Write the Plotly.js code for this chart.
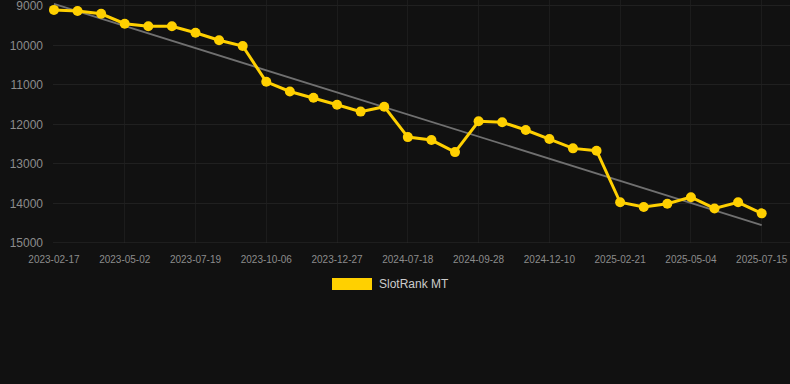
<!DOCTYPE html>
<html>
<head>
<meta charset="utf-8">
<script src="https://cdn.plot.ly/plotly-3.0.1.min.js"></script>
<style>
html,body{margin:0;padding:0;background:#111111;}
#chart{width:790px;height:384px;}
</style>
</head>
<body>
<div id="chart"></div>
<script>
// Dates (categories), evenly spaced on the axis
var dates = [
  "2023-02-17","2023-03-13","2023-04-07","2023-05-02","2023-05-28","2023-06-23",
  "2023-07-19","2023-08-14","2023-09-10","2023-10-06","2023-11-02","2023-11-30",
  "2023-12-27","2024-01-24","2024-06-22","2024-07-18","2024-08-11","2024-09-04",
  "2024-09-28","2024-10-22","2024-11-16","2024-12-10","2025-01-04","2025-01-28",
  "2025-02-21","2025-03-17","2025-04-10","2025-05-04","2025-05-28","2025-06-21",
  "2025-07-15"
];
// Rank values (SlotRank MT)
var ranks = [
  9100, 9130, 9200, 9450, 9515, 9515,
  9680, 9870, 10015, 10920, 11165, 11325,
  11500, 11675, 11550, 12320, 12395, 12700,
  11920, 11945, 12140, 12370, 12605, 12665,
  13970, 14090, 14005, 13840, 14125, 13970,
  14250
];
// Trend line endpoints
var trendX = ["2023-02-17", "2025-07-15"];
var trendY = [8950, 14545];
// Tick labels shown on x axis
var tickLabels = [
  "2023-02-17","2023-05-02","2023-07-19","2023-10-06","2023-12-27","2024-07-18",
  "2024-09-28","2024-12-10","2025-02-21","2025-05-04","2025-07-15"
];
var yTicks = [9000, 10000, 11000, 12000, 13000, 14000, 15000];
var yTickText = ["9000", "10000", "11000", "12000", "13000", "14000", "15000"];
var seriesName = "SlotRank MT";

var traces = [
  {
    x: trendX, y: trendY, type: "scatter", mode: "lines",
    line: {color: "#707070", width: 1.8},
    hoverinfo: "skip", showlegend: false
  },
  {
    x: dates, y: ranks, type: "scatter", mode: "lines+markers",
    name: seriesName,
    line: {color: "#FFD000", width: 3},
    marker: {color: "#FFD000", size: 10},
    cliponaxis: false,
    showlegend: false
  }
];

var layout = {
  width: 790, height: 384,
  paper_bgcolor: "#111111", plot_bgcolor: "#111111",
  margin: {l: 53, r: 0, t: 0, b: 141},
  font: {family: "Liberation Sans, Arial, sans-serif", color: "#999999"},
  showlegend: false,
  xaxis: {
    type: "category",
    categoryorder: "array", categoryarray: dates,
    range: [-0.04, 31.2],
    tickmode: "array", tickvals: tickLabels, ticktext: tickLabels,
    showgrid: true, gridcolor: "#1c1c1c", gridwidth: 1,
    zeroline: false, showline: false,
    ticks: "", ticklabelstandoff: 9,
    tickfont: {size: 10, color: "#8c8c8c"}
  },
  yaxis: {
    range: [15000, 8850],
    tickmode: "array", tickvals: yTicks, ticktext: yTickText,
    ticklabeloverflow: "allow",
    showgrid: true, gridcolor: "#202020", gridwidth: 1,
    zeroline: false, showline: false,
    ticks: "", ticklabelstandoff: 9,
    tickfont: {size: 12, color: "#8c8c8c"}
  },
  shapes: [
    {type: "line", xref: "paper", yref: "y", x0: 0, x1: 1, y0: 15000, y1: 15000,
     line: {color: "#2c2c2c", width: 1}},
    {type: "rect", xref: "paper", yref: "paper",
     x0: (332 - 53) / 737, x1: (372 - 53) / 737,
     y0: -(290 - 243) / 243, y1: -(278 - 243) / 243,
     fillcolor: "#FFD000", line: {width: 0}}
  ],
  annotations: [
    {xref: "paper", yref: "paper", x: (377 - 53) / 737, y: -(284 - 243) / 243,
     xanchor: "left", yanchor: "middle", showarrow: false,
     text: seriesName, font: {size: 12, color: "#cccccc"}}
  ]
};

Plotly.newPlot("chart", traces, layout, {displayModeBar: false, staticPlot: true});
</script>
</body>
</html>
